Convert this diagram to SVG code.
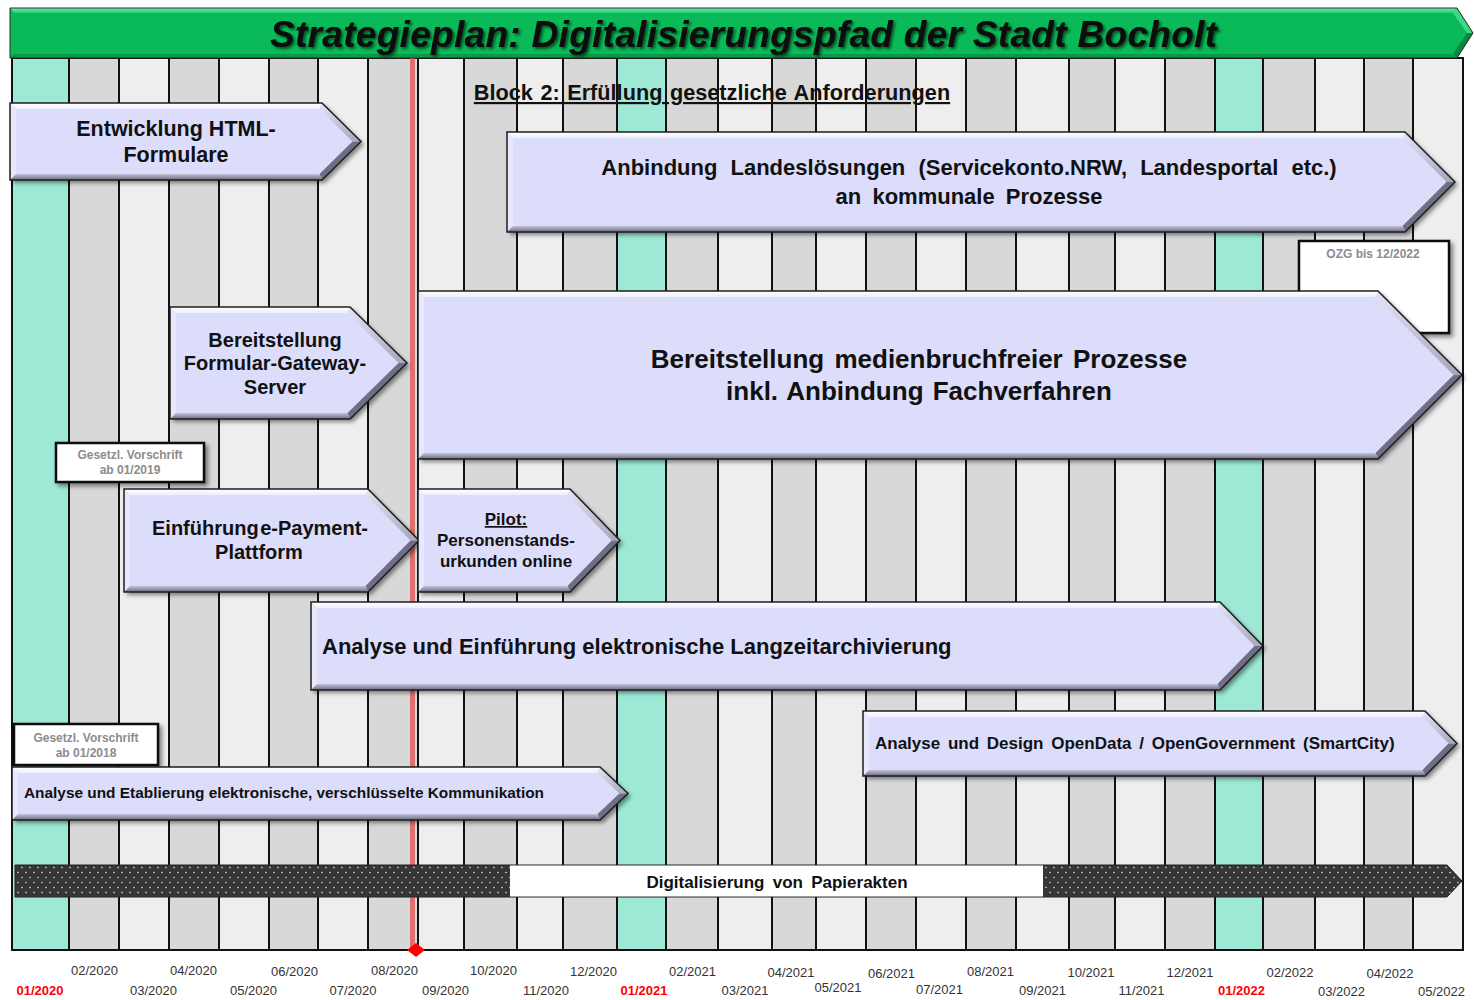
<svg xmlns="http://www.w3.org/2000/svg" width="1474" height="1000" viewBox="0 0 1474 1000">
  <defs>
    <style>
      text { font-family: "Liberation Sans", Arial, sans-serif; }
      .body { fill: #dcdcfb; filter: url(#shadow); }
      .edge { fill: none; stroke: #1e1e1e; stroke-width: 1.5; stroke-linejoin: miter; }
      .bv-top { fill: url(#gTop); }
      .bv-left { fill: #e8e8fd; }
      .bv-rt { fill: url(#gRt); }
      .bv-rb { fill: #6e6e84; }
      .bv-bot { fill: url(#gBot); }
      .lbl { font-weight: bold; fill: #111; text-anchor: middle; }
      .lbl-l { font-weight: bold; fill: #111; }
      .note-box { fill: #fff; stroke: #111; stroke-width: 2.5; filter: url(#shadow); }
      .note { font-weight: bold; fill: #8c8c8c; font-size: 12px; text-anchor: middle; }
      .teal { fill: #9de9d5; }
      .gray { fill: #d8d8d8; }
      .light { fill: #eeeeee; }
      .month { font-size: 13px; fill: #333; text-anchor: middle; }
      .month-y { font-size: 13px; fill: #ff0000; font-weight: bold; text-anchor: middle; }
    </style>
    <linearGradient id="gTop" x1="0" y1="0" x2="0" y2="1">
      <stop offset="0" stop-color="#ffffff"/>
      <stop offset="1" stop-color="#eeeefe"/>
    </linearGradient>
    <linearGradient id="gBot" x1="0" y1="0" x2="0" y2="1">
      <stop offset="0" stop-color="#c2c2da"/>
      <stop offset="1" stop-color="#6a6a80"/>
    </linearGradient>
    <linearGradient id="gRt" x1="0" y1="0" x2="1" y2="1">
      <stop offset="0" stop-color="#e4e4f6"/>
      <stop offset="1" stop-color="#a4a4ba"/>
    </linearGradient>
    <linearGradient id="gHdrTop" x1="0" y1="0" x2="0" y2="1">
      <stop offset="0" stop-color="#6ff0a8"/>
      <stop offset="1" stop-color="#1fcf6c"/>
    </linearGradient>
    <filter id="shadow" x="-5%" y="-10%" width="115%" height="135%">
      <feDropShadow dx="3" dy="3" stdDeviation="2" flood-color="#000" flood-opacity="0.45"/>
    </filter>
    <filter id="tshadow" x="-5%" y="-40%" width="110%" height="180%">
      <feDropShadow dx="2" dy="2" stdDeviation="1.5" flood-color="#000" flood-opacity="0.6"/>
    </filter>
    <pattern id="dots" width="8" height="10" patternUnits="userSpaceOnUse">
      <rect width="8" height="10" fill="#363636"/>
      <circle cx="2" cy="2.5" r="0.8" fill="#e2e2e2"/>
      <circle cx="6" cy="7.5" r="0.8" fill="#e2e2e2"/>
    </pattern>
  </defs>

  <rect width="1474" height="1000" fill="#ffffff"/>

  <!-- month grid -->
  <g id="grid">
    <rect class="teal" x="12" y="58" width="57" height="892"/>
    <rect class="gray" x="69" y="58" width="50" height="892"/>
    <rect class="light" x="119" y="58" width="50" height="892"/>
    <rect class="gray" x="169" y="58" width="50" height="892"/>
    <rect class="light" x="219" y="58" width="50" height="892"/>
    <rect class="gray" x="269" y="58" width="49" height="892"/>
    <rect class="light" x="318" y="58" width="50" height="892"/>
    <rect class="gray" x="368" y="58" width="50" height="892"/>
    <rect class="light" x="418" y="58" width="46" height="892"/>
    <rect class="gray" x="464" y="58" width="53" height="892"/>
    <rect class="light" x="517" y="58" width="46" height="892"/>
    <rect class="gray" x="563" y="58" width="54" height="892"/>
    <rect class="teal" x="617" y="58" width="49" height="892"/>
    <rect class="gray" x="666" y="58" width="52" height="892"/>
    <rect class="light" x="718" y="58" width="54" height="892"/>
    <rect class="gray" x="772" y="58" width="44" height="892"/>
    <rect class="light" x="816" y="58" width="50" height="892"/>
    <rect class="gray" x="866" y="58" width="50" height="892"/>
    <rect class="light" x="916" y="58" width="50" height="892"/>
    <rect class="gray" x="966" y="58" width="50" height="892"/>
    <rect class="light" x="1016" y="58" width="53" height="892"/>
    <rect class="gray" x="1069" y="58" width="46" height="892"/>
    <rect class="light" x="1115" y="58" width="50" height="892"/>
    <rect class="gray" x="1165" y="58" width="50" height="892"/>
    <rect class="teal" x="1215" y="58" width="48" height="892"/>
    <rect class="gray" x="1263" y="58" width="52" height="892"/>
    <rect class="light" x="1315" y="58" width="49" height="892"/>
    <rect class="gray" x="1364" y="58" width="49" height="892"/>
    <rect class="light" x="1413" y="58" width="50" height="892"/>
    <path d="M69 58V950M119 58V950M169 58V950M219 58V950M269 58V950M318 58V950M368 58V950M418 58V950M464 58V950M517 58V950M563 58V950M617 58V950M666 58V950M718 58V950M772 58V950M816 58V950M866 58V950M916 58V950M966 58V950M1016 58V950M1069 58V950M1115 58V950M1165 58V950M1215 58V950M1263 58V950M1315 58V950M1364 58V950M1413 58V950" stroke="#111" stroke-width="2" fill="none"/>
    <rect x="12" y="58" width="1451" height="892" fill="none" stroke="#111" stroke-width="2"/>
    <!-- current month marker -->
    <rect x="410" y="58" width="5" height="892" fill="#e07070"/>
    <polygon points="416,943 425,950 416,957 407,950" fill="#ff0000"/>
  </g>

  <!-- title banner -->
  <g id="title">
    <polygon points="10,8 1457,8 1473,33 1457,58 10,58" fill="#0aba58"/>
    <polygon points="10,8 1457,8 1453,13 14,13" fill="url(#gHdrTop)"/>
    <polygon points="1457,8 1473,33 1467,33 1453,13" fill="#3ed886"/>
    <polygon points="1473,33 1457,58 1453,54 1467,33" fill="#07873f"/>
    <polygon points="1457,58 10,58 14,54 1453,54" fill="#089a48"/>
    <polygon points="10,8 1457,8 1473,33 1457,58 10,58" fill="none" stroke="#2a2a2a" stroke-width="1"/>
    <text x="270" y="47" font-size="37" font-weight="bold" font-style="italic" fill="#0a0a0a" textLength="947" filter="url(#tshadow)">Strategieplan: Digitalisierungspfad der Stadt Bocholt</text>
  </g>

  <g id="block-heading">
    <text x="712" y="100" font-size="21.7" font-weight="bold" fill="#111" text-anchor="middle" text-decoration="underline" word-spacing="1.5">Block 2: Erfüllung gesetzliche Anforderungen</text>
  </g>

  <g id="n-html-formulare">
    <polygon class="body" points="10,103 322,103 361,141.5 322,180 10,180"/>
    <polygon class="bv-top" points="10,103 322,103 319.5,109 16,109"/>
    <polygon class="bv-left" points="10,103 16,109 16,174 10,180"/>
    <polygon class="bv-rt" points="322,103 361,141.5 352.5,141.5 319.5,109"/>
    <polygon class="bv-rb" points="361,141.5 322,180 319.5,174 352.5,141.5"/>
    <polygon class="bv-bot" points="322,180 10,180 16,174 319.5,174"/>
    <polygon class="edge" points="10,103 322,103 361,141.5 322,180 10,180"/>
    <text class="lbl" x="176" y="136" font-size="21.5">Entwicklung HTML-</text>
    <text class="lbl" x="176" y="162" font-size="21.5">Formulare</text>
  </g>

  <g id="n-landesloesungen">
    <polygon class="body" points="507,132 1405,132 1455,182 1405,232 507,232"/>
    <polygon class="bv-top" points="507,132 1405,132 1402.5,138 513,138"/>
    <polygon class="bv-left" points="507,132 513,138 513,226 507,232"/>
    <polygon class="bv-rt" points="1405,132 1455,182 1446.5,182 1402.5,138"/>
    <polygon class="bv-rb" points="1455,182 1405,232 1402.5,226 1446.5,182"/>
    <polygon class="bv-bot" points="1405,232 507,232 513,226 1402.5,226"/>
    <polygon class="edge" points="507,132 1405,132 1455,182 1405,232 507,232"/>
    <text class="lbl" x="969" y="175" font-size="22" word-spacing="7">Anbindung Landeslösungen (Servicekonto.NRW, Landesportal etc.)</text>
    <text class="lbl" x="969" y="204" font-size="22" word-spacing="5">an kommunale Prozesse</text>
  </g>

  <g id="n-ozg">
    <rect class="note-box" x="1299" y="241" width="150" height="92"/>
    <text class="note" x="1373" y="258" font-size="12.5">OZG bis 12/2022</text>
  </g>

  <g id="n-medienbruchfrei">
    <polygon class="body" points="418,291 1378,291 1462,375 1378,459 418,459"/>
    <polygon class="bv-top" points="418,291 1378,291 1375.5,297 424,297"/>
    <polygon class="bv-left" points="418,291 424,297 424,453 418,459"/>
    <polygon class="bv-rt" points="1378,291 1462,375 1453.5,375 1375.5,297"/>
    <polygon class="bv-rb" points="1462,375 1378,459 1375.5,453 1453.5,375"/>
    <polygon class="bv-bot" points="1378,459 418,459 424,453 1375.5,453"/>
    <polygon class="edge" points="418,291 1378,291 1462,375 1378,459 418,459"/>
    <text class="lbl" x="919" y="368" font-size="26" word-spacing="3">Bereitstellung medienbruchfreier Prozesse</text>
    <text class="lbl" x="919" y="400" font-size="26" word-spacing="2">inkl. Anbindung Fachverfahren</text>
  </g>

  <g id="n-gateway">
    <polygon class="body" points="170,307 350,307 407,363 350,419 170,419"/>
    <polygon class="bv-top" points="170,307 350,307 347.5,313 176,313"/>
    <polygon class="bv-left" points="170,307 176,313 176,413 170,419"/>
    <polygon class="bv-rt" points="350,307 407,363 398.5,363 347.5,313"/>
    <polygon class="bv-rb" points="407,363 350,419 347.5,413 398.5,363"/>
    <polygon class="bv-bot" points="350,419 170,419 176,413 347.5,413"/>
    <polygon class="edge" points="170,307 350,307 407,363 350,419 170,419"/>
    <text class="lbl" x="275" y="347" font-size="20">Bereitstellung</text>
    <text class="lbl" x="275" y="370" font-size="20">Formular-Gateway-</text>
    <text class="lbl" x="275" y="394" font-size="20">Server</text>
  </g>

  <g id="n-vorschrift-2019">
    <rect class="note-box" x="56" y="443" width="148" height="39"/>
    <text class="note" x="130" y="459">Gesetzl. Vorschrift</text>
    <text class="note" x="130" y="474">ab 01/2019</text>
  </g>

  <g id="n-epayment">
    <polygon class="body" points="124,489 368,489 419,540.5 368,592 124,592"/>
    <polygon class="bv-top" points="124,489 368,489 365.5,495 130,495"/>
    <polygon class="bv-left" points="124,489 130,495 130,586 124,592"/>
    <polygon class="bv-rt" points="368,489 419,540.5 410.5,540.5 365.5,495"/>
    <polygon class="bv-rb" points="419,540.5 368,592 365.5,586 410.5,540.5"/>
    <polygon class="bv-bot" points="368,592 124,592 130,586 365.5,586"/>
    <polygon class="edge" points="124,489 368,489 419,540.5 368,592 124,592"/>
    <text class="lbl" x="260" y="535" font-size="20" word-spacing="-4">Einführung e-Payment-</text>
    <text class="lbl" x="259" y="559" font-size="20">Plattform</text>
  </g>

  <g id="n-pilot">
    <polygon class="body" points="418,489 570,489 620,540.5 570,592 418,592"/>
    <polygon class="bv-top" points="418,489 570,489 567.5,495 424,495"/>
    <polygon class="bv-left" points="418,489 424,495 424,586 418,592"/>
    <polygon class="bv-rt" points="570,489 620,540.5 611.6,540.5 567.5,495"/>
    <polygon class="bv-rb" points="620,540.5 570,592 567.5,586 611.6,540.5"/>
    <polygon class="bv-bot" points="570,592 418,592 424,586 567.5,586"/>
    <polygon class="edge" points="418,489 570,489 620,540.5 570,592 418,592"/>
    <text class="lbl" x="506" y="525" font-size="17" text-decoration="underline">Pilot:</text>
    <text class="lbl" x="506" y="546" font-size="17">Personenstands-</text>
    <text class="lbl" x="506" y="567" font-size="17">urkunden online</text>
  </g>

  <g id="n-langzeitarchiv">
    <polygon class="body" points="311,602 1220,602 1263,646 1220,690 311,690"/>
    <polygon class="bv-top" points="311,602 1220,602 1217.5,608 317,608"/>
    <polygon class="bv-left" points="311,602 317,608 317,684 311,690"/>
    <polygon class="bv-rt" points="1220,602 1263,646 1254.5,646 1217.5,608"/>
    <polygon class="bv-rb" points="1263,646 1220,690 1217.5,684 1254.5,646"/>
    <polygon class="bv-bot" points="1220,690 311,690 317,684 1217.5,684"/>
    <polygon class="edge" points="311,602 1220,602 1263,646 1220,690 311,690"/>
    <text class="lbl-l" x="322" y="654" font-size="22">Analyse und Einführung elektronische Langzeitarchivierung</text>
  </g>

  <g id="n-opendata">
    <polygon class="body" points="863,711 1425,711 1457,743.5 1425,776 863,776"/>
    <polygon class="bv-top" points="863,711 1425,711 1422.5,717 869,717"/>
    <polygon class="bv-left" points="863,711 869,717 869,770 863,776"/>
    <polygon class="bv-rt" points="1425,711 1457,743.5 1448.5,743.5 1422.5,717"/>
    <polygon class="bv-rb" points="1457,743.5 1425,776 1422.5,770 1448.5,743.5"/>
    <polygon class="bv-bot" points="1425,776 863,776 869,770 1422.5,770"/>
    <polygon class="edge" points="863,711 1425,711 1457,743.5 1425,776 863,776"/>
    <text class="lbl-l" x="875" y="749" font-size="17" word-spacing="3">Analyse und Design OpenData / OpenGovernment (SmartCity)</text>
  </g>

  <g id="n-vorschrift-2018">
    <rect class="note-box" x="14" y="724" width="144" height="41"/>
    <text class="note" x="86" y="742">Gesetzl. Vorschrift</text>
    <text class="note" x="86" y="757">ab 01/2018</text>
  </g>

  <g id="n-kommunikation">
    <polygon class="body" points="12,767 600,767 628,793.5 600,820 12,820"/>
    <polygon class="bv-top" points="12,767 600,767 597.6,773 18,773"/>
    <polygon class="bv-left" points="12,767 18,773 18,814 12,820"/>
    <polygon class="bv-rt" points="600,767 628,793.5 619.3,793.5 597.6,773"/>
    <polygon class="bv-rb" points="628,793.5 600,820 597.6,814 619.3,793.5"/>
    <polygon class="bv-bot" points="600,820 12,820 18,814 597.6,814"/>
    <polygon class="edge" points="12,767 600,767 628,793.5 600,820 12,820"/>
    <text class="lbl-l" x="24" y="798" font-size="15.4">Analyse und Etablierung elektronische, verschlüsselte Kommunikation</text>
  </g>

  <g id="n-papierakten">
    <polygon points="15,865 1447,865 1462,881 1447,897 15,897" fill="url(#dots)" stroke="#222" stroke-width="1"/>
    <rect x="510" y="865.5" width="533" height="31" fill="#ffffff"/>
    <text class="lbl" x="777" y="888" font-size="17" word-spacing="3.5">Digitalisierung von Papierakten</text>
  </g>

  <g id="connectors"/>

  <!-- month axis -->
  <g id="axis">
    <text class="month-y" x="40" y="995">01/2020</text>
    <text class="month" x="94.5" y="975">02/2020</text>
    <text class="month" x="153.5" y="995">03/2020</text>
    <text class="month" x="193.5" y="975">04/2020</text>
    <text class="month" x="253.5" y="995">05/2020</text>
    <text class="month" x="294.5" y="976">06/2020</text>
    <text class="month" x="353" y="995">07/2020</text>
    <text class="month" x="394.5" y="975">08/2020</text>
    <text class="month" x="445.5" y="995">09/2020</text>
    <text class="month" x="493.5" y="975">10/2020</text>
    <text class="month" x="546" y="995">11/2020</text>
    <text class="month" x="593.5" y="976">12/2020</text>
    <text class="month-y" x="644" y="995">01/2021</text>
    <text class="month" x="692.5" y="976">02/2021</text>
    <text class="month" x="745" y="995">03/2021</text>
    <text class="month" x="791" y="977">04/2021</text>
    <text class="month" x="838" y="992">05/2021</text>
    <text class="month" x="891.5" y="978">06/2021</text>
    <text class="month" x="939.5" y="994">07/2021</text>
    <text class="month" x="990.5" y="976">08/2021</text>
    <text class="month" x="1042.5" y="995">09/2021</text>
    <text class="month" x="1091" y="977">10/2021</text>
    <text class="month" x="1141.5" y="995">11/2021</text>
    <text class="month" x="1190" y="977">12/2021</text>
    <text class="month-y" x="1241.5" y="995">01/2022</text>
    <text class="month" x="1290" y="977">02/2022</text>
    <text class="month" x="1341.5" y="996">03/2022</text>
    <text class="month" x="1390" y="978">04/2022</text>
    <text class="month" x="1441.5" y="996">05/2022</text>
  </g>
</svg>
